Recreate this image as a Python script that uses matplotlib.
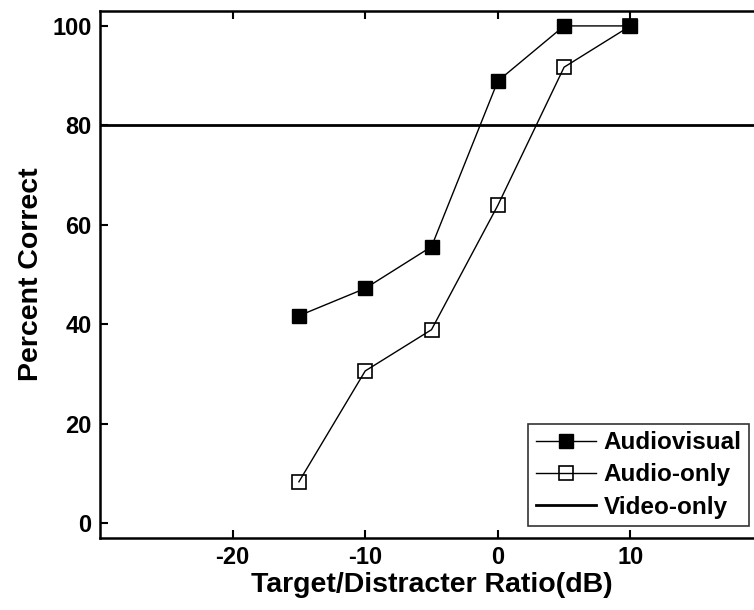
import numpy as np
import matplotlib.pyplot as plt

plt.rcParams['font.family'] = ['Liberation Sans', 'DejaVu Sans']
plt.rcParams['font.weight'] = 'bold'
plt.rcParams['axes.unicode_minus'] = False

# target/distracter ratio (dB)
tdr = [-15, -10, -5, 0, 5, 10]
audiovisual = [41.7, 47.2, 55.6, 88.9, 100, 100]
audio_only = [8.3, 30.6, 38.9, 63.9, 91.7, 100]
video_only = 80

fig = plt.figure(figsize=(7.54, 6.10), dpi=100)
# right edge of the box falls outside the picture, as in the source
ax = fig.add_axes([100/754, 1 - 538/610, 663/754, 527/610])

ax.plot(tdr, audio_only, color='black', lw=1.0, marker='s', ms=10.5,
        mfc='none', mec='black', mew=1.2, label='Audio-only', zorder=3)
ax.plot(tdr, audiovisual, color='black', lw=1.0, marker='s', ms=10.5,
        mfc='black', mec='black', label='Audiovisual', zorder=4)
ax.axhline(video_only, color='black', lw=2.0, label='Video-only', zorder=2)

ax.set_xlim(-30, 20)
ax.set_ylim(-3, 103)
ax.set_xticks([-20, -10, 0, 10])
ax.set_yticks([0, 20, 40, 60, 80, 100])
ax.tick_params(direction='in', length=6, width=1.5, top=True, right=True,
               labelsize=17, pad=6)
for s in ax.spines.values():
    s.set_linewidth(1.8)

ax.set_xlabel('Target/Distracter Ratio(dB)', fontsize=20.5, fontweight='bold', labelpad=2)
ax.set_ylabel('Percent Correct', fontsize=20.5, fontweight='bold', labelpad=6)

h, l = ax.get_legend_handles_labels()
order = [1, 0, 2]
leg = ax.legend([h[i] for i in order], [l[i] for i in order],
                loc='lower right', bbox_to_anchor=(749/754, 1 - 526/610),
                bbox_transform=fig.transFigure, fontsize=17.5, frameon=True,
                fancybox=False, edgecolor='black', handlelength=2.5,
                handletextpad=0.3, borderpad=0.3, labelspacing=0.38,
                borderaxespad=0)
leg.get_frame().set_linewidth(1.2)

fig.savefig('out.png', dpi=100)
